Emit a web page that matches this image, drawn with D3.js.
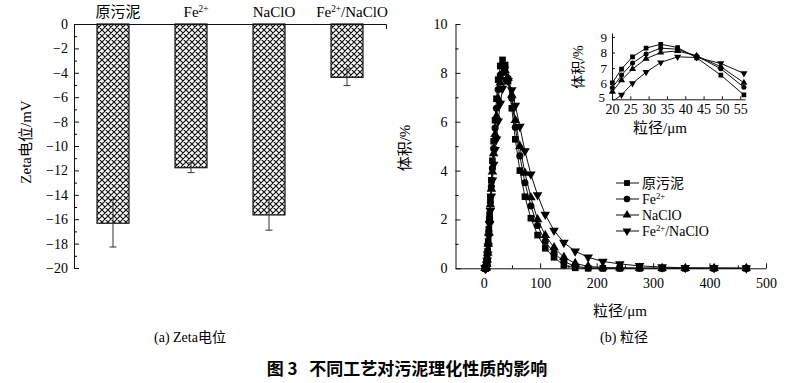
<!DOCTYPE html>
<html>
<head>
<meta charset="utf-8">
<script src="https://cdn.jsdelivr.net/npm/d3@7"></script>
<style>
  body { margin: 0; background: #fff; }
  svg { display: block; }
</style>
</head>
<body>
<script>
// (a) Zeta 电位
var zetaCategories = ['原污泥', 'Fe2+', 'NaClO', 'Fe2+/NaClO']
var zetaValues = [-16.33, -11.78, -15.65, -4.37]
var zetaErrors = [1.95, 0.4, 1.25, 0.68]
var zetaTicks = [0, -2, -4, -6, -8, -10, -12, -14, -16, -18, -20]

// (b) 粒径分布
var sizeBins = [2.5, 2.8, 3.2, 3.6, 4.1, 4.7, 5.4, 6.1, 7.0, 8.0, 9.1, 10.4, 11.8, 13.5, 15.4, 17.6,
    20.1, 22.6, 25.6, 29.3, 33.3, 37.9, 43.1, 49.7, 56.0,
    64, 73, 83.5, 95.4, 109, 124.5, 142, 162, 185, 211, 241, 276, 316, 357, 408, 465]
var sizeRaw = [0, 0, 0, 0, 0.02, 0.08, 0.2, 0.4, 0.7, 1.1, 1.6, 2.2, 2.9, 3.6, 4.4, 5.2,
    6.06, 6.94, 7.72, 8.28, 8.53, 8.32, 7.66, 6.55, 5.28,
    4.0, 2.93, 2.05, 1.36, 0.82, 0.45, 0.12, 0.02, 0, 0, 0, 0, 0, 0, 0, 0]
var sizeFe = [0, 0, 0, 0, 0.02, 0.07, 0.18, 0.37, 0.65, 1.0, 1.5, 2.05, 2.7, 3.35, 4.1, 4.9,
    5.74, 6.55, 7.32, 7.91, 8.28, 8.21, 7.77, 6.96, 5.77,
    4.6, 3.5, 2.55, 1.75, 1.1, 0.62, 0.28, 0.08, 0.02, 0, 0, 0, 0, 0, 0, 0]
var sizeNaClO = [0, 0, 0, 0, 0.02, 0.06, 0.17, 0.36, 0.63, 1.0, 1.45, 2.0, 2.6, 3.25, 3.95, 4.7,
    5.49, 6.23, 6.94, 7.6, 8.0, 8.1, 7.79, 7.09, 6.06,
    5.0, 3.9, 2.9, 2.0, 1.35, 0.85, 0.45, 0.2, 0.08, 0.03, 0.02, 0.01, 0, 0, 0, 0]
var sizeFeNaClO = [0, 0, 0, 0, 0.01, 0.05, 0.15, 0.32, 0.57, 0.9, 1.3, 1.8, 2.35, 2.95, 3.6, 4.25,
    4.85, 5.28, 6.02, 6.74, 7.36, 7.72, 7.68, 7.3, 6.66,
    5.8, 4.8, 3.85, 3.0, 2.2, 1.55, 1.05, 0.7, 0.45, 0.28, 0.18, 0.1, 0.05, 0.02, 0.01, 0]
var seriesNames = ['原污泥', 'Fe2+', 'NaClO', 'Fe2+/NaClO']
var sizeTicks = [0, 100, 200, 300, 400, 500]
var volTicks = [0, 2, 4, 6, 8, 10]
var insetXTicks = [20, 25, 30, 35, 40, 45, 50, 55]
var insetYTicks = [5, 6, 7, 8, 9]

var serif = "'Liberation Serif', 'Times New Roman', 'Noto Sans CJK SC', serif"

var svg = d3.select('body').append('svg')
    .attr('width', 794)
    .attr('height', 383)
    .style('font-family', serif)

// текст с верхним индексом 2+
function richText(sel, str) {
    var parts = str.split('2+')
    sel.append('tspan').text(parts[0])
    for (var i = 1; i < parts.length; i++) {
        sel.append('tspan').attr('font-size', '62%').attr('dy', -5).text('2+')
        sel.append('tspan').attr('dy', 5).text(parts[i])
    }
}

function styleAxis(g, size) {
    g.style('font-family', serif).attr('font-size', size)
    g.selectAll('line, path').attr('stroke', '#111')
}

// ---------- (a) ----------
var xZ = d3.scaleBand()
    .domain(zetaCategories)
    .range([74, 386])
    .paddingInner(0.59)
    .paddingOuter(0.295)
var yZ = d3.scaleLinear().domain([0, -20]).range([24, 268])

var defs = svg.append('defs')
var pat = defs.append('pattern')
    .attr('id', 'hatch')
    .attr('patternUnits', 'userSpaceOnUse')
    .attr('width', 6)
    .attr('height', 6)
pat.append('rect').attr('width', 6).attr('height', 6).attr('fill', '#fff')
pat.append('path')
    .attr('d', 'M0,0L6,6M6,0L0,6M-1,5L1,7M5,-1L7,1M-1,1L1,-1M5,7L7,5')
    .attr('stroke', '#111')
    .attr('stroke-width', 1.2)

var gA = svg.append('g')

gA.selectAll('rect.bar')
    .data(zetaValues)
    .enter()
    .append('rect')
    .attr('class', 'bar')
    .attr('x', function (d, i) { return xZ(zetaCategories[i]) })
    .attr('y', yZ(0))
    .attr('width', xZ.bandwidth())
    .attr('height', function (d) { return yZ(d) - yZ(0) })
    .attr('fill', 'url(#hatch)')
    .attr('stroke', '#111')
    .attr('stroke-width', 1.2)

// планки погрешностей
var eb = gA.selectAll('g.err')
    .data(zetaValues)
    .enter()
    .append('g')
    .attr('class', 'err')
    .attr('stroke', '#333')
    .attr('stroke-width', 1)
eb.append('line')
    .attr('x1', function (d, i) { return xZ(zetaCategories[i]) + xZ.bandwidth() / 2 })
    .attr('x2', function (d, i) { return xZ(zetaCategories[i]) + xZ.bandwidth() / 2 })
    .attr('y1', function (d, i) { return yZ(d + zetaErrors[i]) })
    .attr('y2', function (d, i) { return yZ(d - zetaErrors[i]) })
eb.selectAll('line.cap')
    .data(function (d, i) { return [[i, d + zetaErrors[i]], [i, d - zetaErrors[i]]] })
    .enter()
    .append('line')
    .attr('class', 'cap')
    .attr('x1', function (d) { return xZ(zetaCategories[d[0]]) + xZ.bandwidth() / 2 - 3.5 })
    .attr('x2', function (d) { return xZ(zetaCategories[d[0]]) + xZ.bandwidth() / 2 + 3.5 })
    .attr('y1', function (d) { return yZ(d[1]) })
    .attr('y2', function (d) { return yZ(d[1]) })

// оси
var axTop = gA.append('g')
    .attr('transform', 'translate(0,' + yZ(0) + ')')
    .call(d3.axisTop(xZ).tickSize(0).tickSizeOuter(-5).tickFormat(''))
styleAxis(axTop, 14)

gA.selectAll('text.cat')
    .data(zetaCategories)
    .enter()
    .append('text')
    .attr('class', 'cat')
    .attr('x', function (d) { return xZ(d) + xZ.bandwidth() / 2 + 5 })
    .attr('y', 17)
    .attr('text-anchor', 'middle')
    .attr('font-size', 15)
    .each(function (d) { richText(d3.select(this), d) })

var axL = gA.append('g')
    .attr('transform', 'translate(74,0)')
    .call(d3.axisLeft(yZ).tickValues(zetaTicks).tickSize(-5).tickSizeOuter(0).tickPadding(6))
styleAxis(axL, 14)
gA.append('g')
    .attr('transform', 'translate(74,0)')
    .call(d3.axisLeft(yZ).tickValues(d3.range(-1, -20, -2)).tickSize(-3).tickFormat(''))
    .select('.domain').remove()

gA.append('text')
    .attr('transform', 'translate(31,142) rotate(-90)')
    .attr('text-anchor', 'middle')
    .attr('font-size', 15)
    .text('Zeta电位/mV')

// ---------- (b) ----------
var xS = d3.scaleLinear().domain([-50, 500]).range([455.5, 766])
var yS = d3.scaleLinear().domain([0, 10]).range([268.3, 24])

var gB = svg.append('g')

var axB = gB.append('g')
    .attr('transform', 'translate(0,' + yS(0) + ')')
    .call(d3.axisBottom(xS).tickValues(sizeTicks).tickSize(-5).tickSizeOuter(0).tickPadding(10))
styleAxis(axB, 14)
gB.append('g')
    .attr('transform', 'translate(0,' + yS(0) + ')')
    .call(d3.axisBottom(xS).tickValues([50, 150, 250, 350, 450]).tickSize(-3).tickFormat(''))
    .select('.domain').remove()

var axBL = gB.append('g')
    .attr('transform', 'translate(' + xS(-50) + ',0)')
    .call(d3.axisLeft(yS).tickValues(volTicks).tickSize(-5).tickSizeOuter(0).tickPadding(8))
styleAxis(axBL, 14)
gB.append('g')
    .attr('transform', 'translate(' + xS(-50) + ',0)')
    .call(d3.axisLeft(yS).tickValues([1, 3, 5, 7, 9]).tickSize(-3).tickFormat(''))
    .select('.domain').remove()

gB.append('text')
    .attr('transform', 'translate(410,148) rotate(-90)')
    .attr('text-anchor', 'middle')
    .attr('font-size', 15)
    .text('体积/%')
gB.append('text')
    .attr('x', 620)
    .attr('y', 316)
    .attr('text-anchor', 'middle')
    .attr('font-size', 15)
    .text('粒径/μm')

var seriesData = [sizeRaw, sizeFe, sizeNaClO, sizeFeNaClO]
var symbols = [d3.symbolSquare, d3.symbolCircle, d3.symbolTriangle, d3.symbolTriangle]
var rotations = [0, 0, 0, 180]

function drawSeries(g, xs, ys, filter, sizes) {
    seriesData.forEach(function (vals, s) {
        var pts = sizeBins.map(function (b, i) { return [b, vals[i]] }).filter(filter)
        g.append('path')
            .datum(pts)
            .attr('fill', 'none')
            .attr('stroke', '#111')
            .attr('stroke-width', 1)
            .attr('d', d3.line().x(function (d) { return xs(d[0]) }).y(function (d) { return ys(d[1]) }))
        g.selectAll('path.m' + s)
            .data(pts)
            .enter()
            .append('path')
            .attr('class', 'm' + s)
            .attr('d', d3.symbol().type(symbols[s]).size(sizes[s]))
            .attr('transform', function (d) {
                return 'translate(' + xs(d[0]) + ',' + ys(d[1]) + ') rotate(' + rotations[s] + ')'
            })
            .attr('fill', '#000')
    })
}

drawSeries(gB.append('g'), xS, yS, function () { return true }, [44, 40, 40, 40])

// легенда
var leg = gB.append('g')
var legRows = leg.selectAll('g')
    .data(seriesNames)
    .enter()
    .append('g')
    .attr('transform', function (d, i) { return 'translate(0,' + [183, 199, 215, 231][i] + ')' })
legRows.append('line')
    .attr('x1', 616).attr('x2', 639)
    .attr('stroke', '#111')
legRows.append('path')
    .attr('d', function (d, i) { return d3.symbol().type(symbols[i]).size(34)() })
    .attr('transform', function (d, i) { return 'translate(627,0) rotate(' + rotations[i] + ')' })
legRows.append('text')
    .attr('x', 642)
    .attr('y', 5)
    .attr('font-size', 14)
    .each(function (d) { richText(d3.select(this), d) })

// вставка
var xI = d3.scaleLinear().domain([20, 56.3]).range([612, 745])
var yI = d3.scaleLinear().domain([5, 9.25]).range([99.3, 33])

defs.append('clipPath').attr('id', 'insetClip')
    .append('rect').attr('x', 600).attr('y', 20).attr('width', 160).attr('height', 79.3)

var gI = svg.append('g')
drawSeries(gI.append('g').attr('clip-path', 'url(#insetClip)'), xI, yI,
    function (d) { return d[0] >= 20 && d[0] <= 56.3 }, [22, 20, 22, 22])

var axIX = gI.append('g')
    .attr('transform', 'translate(0,' + yI(5) + ')')
    .call(d3.axisBottom(xI).tickValues(insetXTicks).tickSize(-3).tickSizeOuter(0).tickPadding(5))
styleAxis(axIX, 14)
var axIY = gI.append('g')
    .attr('transform', 'translate(' + xI(20) + ',0)')
    .call(d3.axisLeft(yI).tickValues(insetYTicks).tickFormat(d3.format('d'))
        .tickSize(-3).tickSizeOuter(0).tickPadding(5))
styleAxis(axIY, 13)
// "5" немного влево-вверх, чтобы не налезать на "20"
axIY.selectAll('.tick text')
    .attr('dx', function (d) { return d === 5 ? -2 : 0 })
    .attr('dy', function (d) { return d === 5 ? '0.15em' : '0.32em' })

gI.append('text')
    .attr('transform', 'translate(583,67) rotate(-90)')
    .attr('text-anchor', 'middle')
    .attr('font-size', 14)
    .text('体积/%')
gI.append('text')
    .attr('x', 660)
    .attr('y', 133)
    .attr('text-anchor', 'middle')
    .attr('font-size', 15)
    .text('粒径/μm')

// подписи
svg.append('text')
    .attr('x', 190).attr('y', 342)
    .attr('text-anchor', 'middle')
    .attr('font-size', 14)
    .text('(a) Zeta电位')
svg.append('text')
    .attr('x', 624).attr('y', 342)
    .attr('text-anchor', 'middle')
    .attr('font-size', 14)
    .text('(b) 粒径')
svg.append('text')
    .attr('x', 407).attr('y', 375)
    .attr('text-anchor', 'middle')
    .style('font-family', "'Noto Sans CJK SC', sans-serif")
    .attr('font-weight', 'bold')
    .attr('font-size', 17)
    .attr('xml:space', 'preserve')
    .text('图 3   不同工艺对污泥理化性质的影响')
</script>
</body>
</html>
